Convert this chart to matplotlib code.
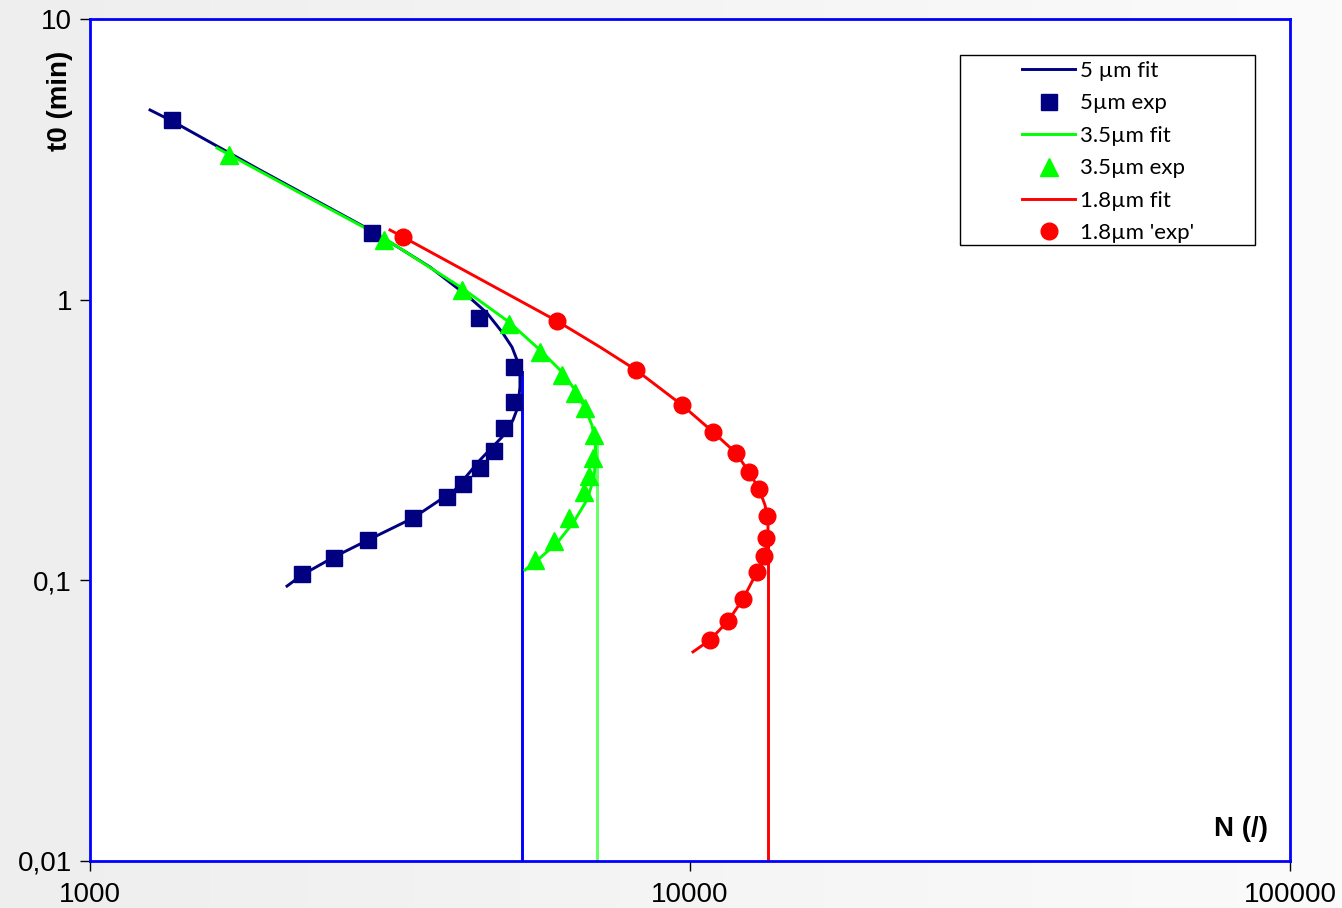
import numpy as np
import matplotlib.pyplot as plt
from matplotlib.colors import LinearSegmentedColormap
from matplotlib.patches import Rectangle

# 5 um particles
n_5_exp = [1370, 2951, 4450, 5088, 5088, 4898, 4715, 4467, 4185, 3936, 3454, 2907, 2551, 2256]
t_5_exp = [4.37, 1.728, 0.860, 0.5755, 0.4318, 0.349, 0.289, 0.2513, 0.2203, 0.198, 0.1667, 0.1392, 0.1201, 0.1053]
n_5_fit = [1259, 1370, 1920, 2951, 3687, 4299, 4588, 4861, 5050, 5148, 5207, 5207, 5167, 5070, 4861, 4467, 4057,
           3454, 2907, 2551, 2256, 2130]
t_5_fit = [4.741, 4.331, 2.897, 1.757, 1.307, 1.014, 0.8964, 0.767, 0.678, 0.610, 0.539, 0.4886, 0.4146, 0.3726,
           0.324, 0.2684, 0.2099, 0.1667, 0.1392, 0.1211, 0.1045, 0.0954]

# 3.5 um particles
n_35_exp = [1705, 3090, 4169, 4992, 5623, 6119, 6433, 6683, 6918, 6891, 6786, 6657, 6287, 5934, 5516]
t_35_exp = [3.277, 1.631, 1.083, 0.819, 0.651, 0.539, 0.465, 0.411, 0.3295, 0.273, 0.2353, 0.2064, 0.1667, 0.1381, 0.1182]
n_35_fit = [1628, 2239, 3090, 4169, 4992, 5623, 6119, 6433, 6683, 6863, 6943, 6970, 6918, 6735, 6383, 6002, 5623, 5309]
t_35_fit = [3.47, 2.399, 1.658, 1.1, 0.8325, 0.6616, 0.5525, 0.4767, 0.4111, 0.3575, 0.3162, 0.2797, 0.2315, 0.1933,
            0.16, 0.1358, 0.1201, 0.1088]

# 1.8 um particles
n_18_exp = [3324, 6002, 8128, 9698, 10924, 11931, 12540, 13032, 13440, 13389, 13286, 12932, 12256, 11571, 10798]
t_18_exp = [1.672, 0.8395, 0.5617, 0.4213, 0.3377, 0.2843, 0.2432, 0.2115, 0.1695, 0.1415, 0.1221, 0.1071, 0.0858,
            0.0716, 0.0613]
n_18_fit = [3162, 3324, 4467, 6002, 7079, 8128, 9698, 10924, 11931, 12540, 13032, 13335, 13490, 13490, 13335, 12932,
            12256, 11571, 10798, 10116]
t_18_fit = [1.771, 1.672, 1.185, 0.8395, 0.678, 0.5617, 0.4213, 0.3377, 0.2843, 0.2432, 0.2115, 0.1855, 0.164, 0.1415,
            0.1221, 0.1071, 0.0858, 0.0716, 0.0613, 0.0556]

# vertical cut-off lines (N limit, t where the line starts)
n_limit = [5248, 6998, 13490]
t_limit = [0.552, 0.30, 0.14]
limit_colors = ["#0000ff", "#66ff66", "#ff0000"]

x_ticks = [1000, 10000, 100000]
x_labels = ["1000", "10000", "100000"]
y_ticks = [0.01, 0.1, 1, 10]
y_labels = ["0,01", "0,1", "1", "10"]

plt.rcParams["font.family"] = ["Liberation Sans", "DejaVu Sans"]

fig = plt.figure(figsize=(13.42, 9.08), dpi=100)

# soft grey slide background
bg = fig.add_axes([0, 0, 1, 1], zorder=-10)
grad = np.linspace(0, 1, 256).reshape(1, -1)
cmap = LinearSegmentedColormap.from_list("bg", ["#eeeeee", "#fbfbfb"])
bg.imshow(grad, aspect="auto", cmap=cmap, extent=[0, 1, 0, 1])
bg.axis("off")

ax = fig.add_axes([90 / 1342, 1 - 861 / 908, 1200 / 1342, 842 / 908])
ax.set_facecolor("white")
ax.set_xscale("log")
ax.set_yscale("log")
ax.set_xlim(1000, 100000)
ax.set_ylim(0.01, 10)

lw = 2.1
ax.plot(n_5_fit, t_5_fit, color="#000080", lw=lw, label="5 µm fit", zorder=3)
ax.plot(n_5_exp, t_5_exp, "s", color="#000080", ms=11.5, label="5µm exp", zorder=4)
ax.plot(n_35_fit, t_35_fit, color="#00ff00", lw=lw, label="3.5µm fit", zorder=3)
ax.plot(n_35_exp, t_35_exp, "^", color="#00ff00", ms=12.5, label="3.5µm exp", zorder=4)
ax.plot(n_18_fit, t_18_fit, color="#ff0000", lw=lw, label="1.8µm fit", zorder=3)
ax.plot(n_18_exp, t_18_exp, "o", color="#ff0000", ms=12, label="1.8µm 'exp'", zorder=4)

for n, t, c in zip(n_limit, t_limit, limit_colors):
    ax.plot([n, n], [t, 0.01], color=c, lw=lw, zorder=2)

ax.minorticks_off()
ax.set_xticks(x_ticks)
ax.set_xticklabels(x_labels)
ax.set_yticks(y_ticks)
ax.set_yticklabels(y_labels)
ax.tick_params(axis="both", which="major", labelsize=20, color="black",
               direction="out", length=7, width=1, pad=6)
ax.tick_params(axis="x", pad=8)

for s in ax.spines.values():
    s.set_color("#0000ff")
    s.set_linewidth(2)

fig.text(60 / 1342, 1 - 101 / 908, "t0 (min)", rotation=90, fontsize=20,
         fontweight="bold", ha="center", va="center")
fig.text(1268 / 1342, 1 - 829 / 908, "N (/)", fontsize=20,
         fontweight="bold", ha="right", va="center")

# legend box drawn separately so the entries can sit further right
handles, labels = ax.get_legend_handles_labels()
fig.patches.append(Rectangle((960 / 1342, 1 - 245 / 908), 295 / 1342, 190 / 908,
                             transform=fig.transFigure, facecolor="white",
                             edgecolor="black", lw=1, zorder=1))
leg = fig.legend(handles, labels, loc="upper left",
                 bbox_to_anchor=(1022 / 1342, 1 - 61 / 908),
                 frameon=False, borderpad=0, borderaxespad=0,
                 handlelength=2.4, handletextpad=0.23, labelspacing=0.56,
                 prop={"family": "Lato", "size": 16})
leg.set_zorder(5)

fig.savefig("out.png", dpi=100)
